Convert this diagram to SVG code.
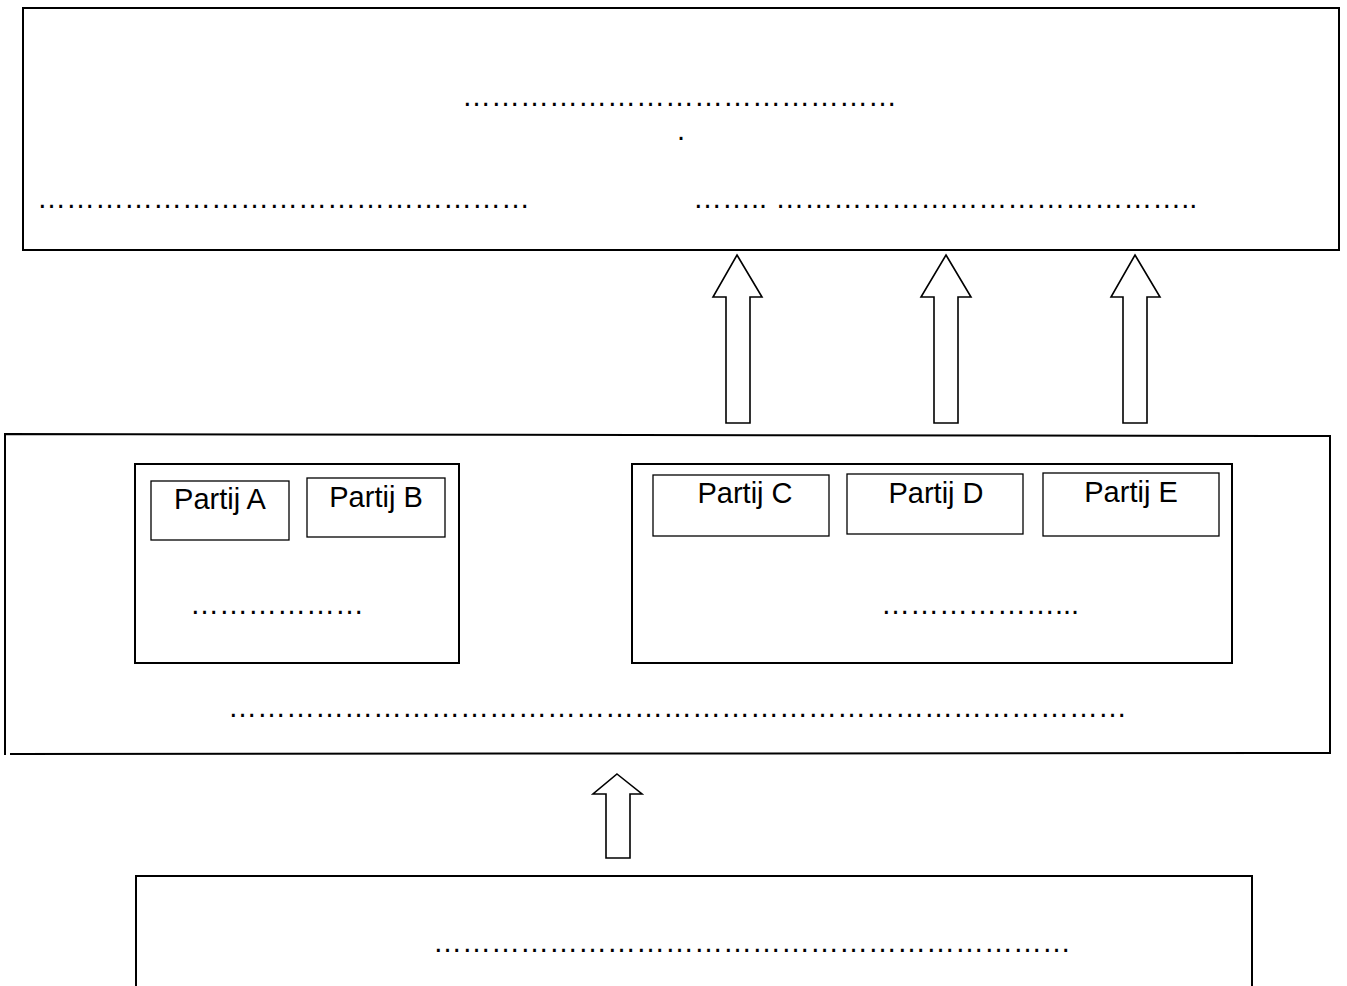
<svg xmlns="http://www.w3.org/2000/svg" width="1347" height="986" viewBox="0 0 1347 986">
<style>
.box{fill:none;stroke:#000;stroke-width:2}
.sub{fill:none;stroke:#000;stroke-width:1.3}
.arrow{fill:#fff;stroke:#000;stroke-width:1.6;stroke-linejoin:miter}
text{font-family:"Liberation Sans",Arial,sans-serif;font-size:29px;fill:#000}
</style>
<rect width="1347" height="986" fill="#fff"/>
<g id="top">
<rect class="box" x="23" y="8" width="1316" height="242"/>
<text x="462" y="106">&#8230;&#8230;&#8230;&#8230;&#8230;&#8230;&#8230;&#8230;&#8230;&#8230;&#8230;&#8230;&#8230;&#8230;&#8230;</text>
<text x="677" y="140">.</text>
<text x="37" y="208">&#8230;&#8230;&#8230;&#8230;&#8230;&#8230;&#8230;&#8230;&#8230;&#8230;&#8230;&#8230;&#8230;&#8230;&#8230;&#8230;&#8230;</text>
<text x="693" y="208">&#8230;&#8230;.. &#8230;&#8230;&#8230;&#8230;&#8230;&#8230;&#8230;&#8230;&#8230;&#8230;&#8230;&#8230;&#8230;&#8230;..</text>
</g>
<g id="middle">
<polyline class="box" points="5,755 5,434 1330,436 1330,753 10,754"/>
<text x="228" y="717">&#8230;&#8230;&#8230;&#8230;&#8230;&#8230;&#8230;&#8230;&#8230;&#8230;&#8230;&#8230;&#8230;&#8230;&#8230;&#8230;&#8230;&#8230;&#8230;&#8230;&#8230;&#8230;&#8230;&#8230;&#8230;&#8230;&#8230;&#8230;&#8230;&#8230;&#8230;</text>
</g>
<g id="groupAB">
<rect class="box" x="135" y="464" width="324" height="199"/>
<text x="190" y="614">&#8230;&#8230;&#8230;&#8230;&#8230;&#8230;</text>
</g>
<g id="partijA"><rect class="sub" x="151" y="481" width="138" height="59"/><text x="220" y="509" text-anchor="middle">Partij A</text></g>
<g id="partijB"><rect class="sub" x="307" y="478" width="138" height="59"/><text x="376" y="507" text-anchor="middle">Partij B</text></g>
<g id="groupCDE">
<rect class="box" x="632" y="464" width="600" height="199"/>
<text x="881" y="614">&#8230;&#8230;&#8230;&#8230;&#8230;&#8230;...</text>
</g>
<g id="partijC"><rect class="sub" x="653" y="475" width="176" height="61"/><text x="745" y="503" text-anchor="middle">Partij C</text></g>
<g id="partijD"><rect class="sub" x="847" y="474" width="176" height="60"/><text x="936" y="503" text-anchor="middle">Partij D</text></g>
<g id="partijE"><rect class="sub" x="1043" y="473" width="176" height="63"/><text x="1131" y="502" text-anchor="middle">Partij E</text></g>
<g id="bottom">
<polyline class="box" points="136,990 136,876 1252,876 1252,990"/>
<text x="433" y="952">&#8230;&#8230;&#8230;&#8230;&#8230;&#8230;&#8230;&#8230;&#8230;&#8230;&#8230;&#8230;&#8230;&#8230;&#8230;&#8230;&#8230;&#8230;&#8230;&#8230;&#8230;&#8230;</text>
</g>
<g id="connectors">
<polygon class="arrow" points="737,255 762,297 750,297 750,423 726,423 726,297 713,297"/>
<polygon class="arrow" points="946,255 971,297 958,297 958,423 934,423 934,297 921,297"/>
<polygon class="arrow" points="1135,255 1160,297 1147,297 1147,423 1123,423 1123,297 1111,297"/>
<polygon class="arrow" points="617,774 642,794 630,794 630,858 606,858 606,794 593,794"/>
</g>
</svg>
